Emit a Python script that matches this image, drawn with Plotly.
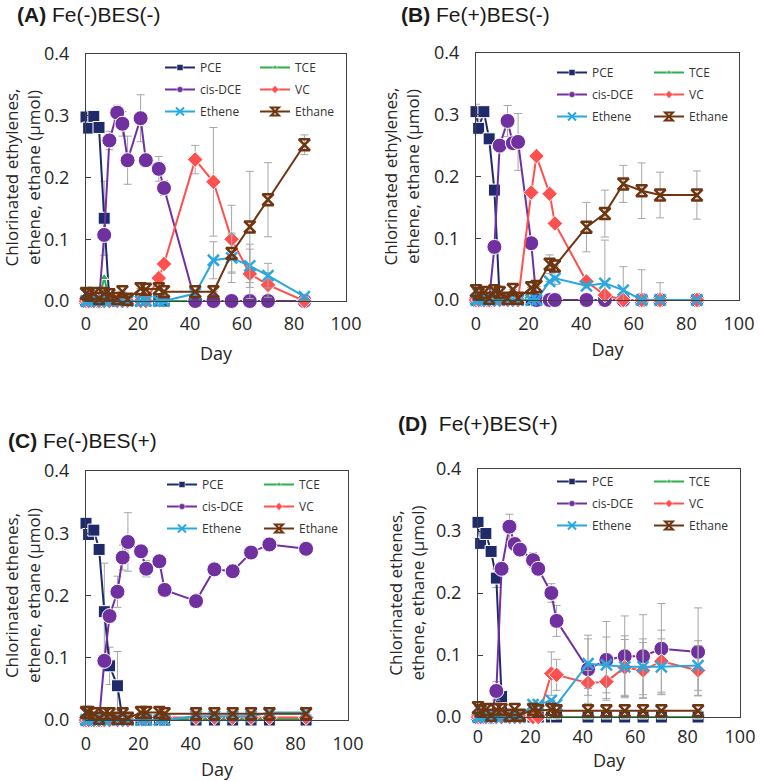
import plotly.graph_objects as go

W, H = 760, 781

days = [0, 1, 3, 5, 7, 9, 12, 14, 16, 21, 23, 28, 30, 42, 49, 56, 63, 70, 84]
x_ticks = [0, 20, 40, 60, 80, 100]
y_ticks = [0.0, 0.1, 0.2, 0.3, 0.4]
species = ['PCE', 'TCE', 'cis-DCE', 'VC', 'Ethene', 'Ethane']

# (A) Fe(-)BES(-)
a_pce = [0.298, 0.28, 0.299, 0.281, 0.134, 0, 0, 0, 0, 0, 0, 0, 0, 0, 0, 0, 0, 0, 0]
a_tce = [0, 0, 0, 0, 0.038, 0, 0, 0, 0, 0, 0, 0, 0, 0, 0, 0, 0, 0, 0]
a_cis = [0, 0, 0, 0, 0.107, 0.26, 0.305, 0.287, 0.228, 0.296, 0.228, 0.214, 0.183, 0, 0, 0, 0, 0, 0]
a_vc = [0, 0, 0, 0, 0, 0, 0, 0, 0, 0, 0, 0.037, 0.06, 0.229, 0.193, 0.10, 0.044, 0.026, 0]
a_ethene = [0, 0, 0, 0, 0, 0, 0, 0, 0, 0, 0, 0, 0, 0.012, 0.066, 0.07, 0.057, 0.041, 0.007]
a_ethane = [0.012, 0.01, 0.012, 0.004, 0.012, 0.01, 0.004, 0.015, 0.003, 0.02, 0.019, 0.02, 0.015,
            0.015, 0.015, 0.077, 0.12, 0.164, 0.253]
a_pce_err = [0.01, None, None, None, 0.06, None, None, None, None, None, None, None, None, None, None, None, None, None, None]
a_cis_err = [None, None, None, None, None, 0.015, 0.012, 0.02, 0.039, 0.038, None, 0.02, 0.012, None, None, None, None, None, None]
a_vc_err = [None, None, None, None, None, None, None, None, None, None, None, None, None, 0.023, 0.088, 0.055, 0.04, 0.02, None]
a_ethene_err = [None, None, None, None, None, None, None, None, None, None, None, None, None, None, 0.03, 0.04, 0.035, 0.02, None]
a_ethane_err = [None, None, None, None, None, None, None, None, None, None, None, None, None, None, None, 0.03, 0.09, 0.06, 0.016]

# (B) Fe(+)BES(-)
b_pce = [0.305, 0.278, 0.305, 0.261, 0.178, 0, 0, 0, 0, 0, 0, 0, 0, 0, 0, 0, 0, 0, 0]
b_tce = [0, 0, 0, 0, 0, 0, 0, 0, 0, 0.005, 0.005, 0, 0, 0, 0, 0, 0, 0, 0]
b_cis = [0, 0, 0, 0, 0.086, 0.25, 0.29, 0.254, 0.256, 0.092, 0, 0, 0, 0, 0, 0, 0, 0, 0]
b_vc = [0, 0, 0, 0, 0, 0, 0, 0, 0, 0.174, 0.233, 0.172, 0.124, 0.03, 0.008, 0, 0, 0, 0]
b_ethene = [0, 0, 0, 0, 0, 0, 0, 0, 0, 0, 0, 0.03, 0.035, 0.023, 0.027, 0.016, 0, 0, 0]
b_ethane = [0.015, 0.01, 0.012, 0.003, 0.015, 0.012, 0.003, 0.017, 0.003, 0.02, 0.022, 0.058, 0.055,
            0.118, 0.14, 0.188, 0.177, 0.17, 0.17]
b_pce_err = [0.012, None, None, None, None, None, None, None, None, None, None, None, None, None, None, None, None, None, None]
b_cis_err = [None, None, None, None, None, None, 0.025, None, 0.046, None, None, None, None, None, None, None, None, None, None]
b_vc_err = [None] * 19
b_ethene_err = [None, None, None, None, None, None, None, None, None, None, None, None, 0.01, None, 0.07, 0.038, 0.049, 0.028, None]
b_ethane_err = [None, None, None, None, None, None, None, None, None, None, None, 0.015, None, 0.04, 0.038, 0.03, 0.045, 0.037, 0.039]

# (C) Fe(-)BES(+)
c_pce = [0.316, 0.298, 0.305, 0.274, 0.174, 0.087, 0.055, 0, 0, 0, 0, 0, 0, 0, 0, 0, 0, 0, 0]
c_tce = [0, 0, 0, 0, 0, 0, 0, 0, 0, 0.002, 0.002, 0.002, 0.002, 0.002, 0.002, 0.002, 0.002, 0.002, 0.002]
c_cis = [0, 0, 0, 0, 0.095, 0.167, 0.206, 0.261, 0.286, 0.271, 0.243, 0.255, 0.209, 0.191, 0.242,
         0.239, 0.269, 0.282, 0.275]
c_vc = [0, 0, 0, 0, 0, 0, 0, 0, 0, 0.004, 0.004, 0.004, 0.004, 0.004, 0.004, 0.004, 0.004, 0.004, 0.004]
c_ethene = [0, 0, 0, 0, 0, 0, 0, 0, 0, 0, 0, 0, 0, 0.006, 0.006, 0.006, 0.006, 0.012, 0.012]
c_ethane = [0.012, 0.012, 0.01, 0.003, 0.01, 0.01, 0.003, 0.01, 0.003, 0.012, 0.012, 0.012, 0.01,
            0.01, 0.01, 0.01, 0.01, 0.01, 0.01]
c_pce_err = [None, None, None, None, 0.078, 0.03, 0.055, None, None, None, None, None, None, None, None, None, None, None, None]
c_cis_err = [None, None, None, None, None, None, 0.025, 0.02, 0.047, None, 0.013, None, None, None, None, None, None, None, None]
c_vc_err = [None] * 19
c_ethene_err = [None] * 19
c_ethane_err = [None] * 19

# (D) Fe(+)BES(+)
d_pce = [0.314, 0.28, 0.296, 0.267, 0.224, 0.033, 0, 0, 0, 0, 0, 0, 0, 0, 0, 0, 0, 0, 0]
d_tce = [0] * 19
d_cis = [0, 0, 0, 0, 0.042, 0.239, 0.307, 0.279, 0.27, 0.253, 0.239, 0.2, 0.155, 0.077, 0.092,
         0.098, 0.098, 0.11, 0.105]
d_vc = [0, 0, 0, 0, 0, 0, 0, 0, 0, 0, 0, 0.07, 0.068, 0.055, 0.057, 0.08, 0.075, 0.09, 0.075]
d_ethene = [0, 0, 0, 0, 0, 0, 0, 0, 0, 0.02, 0.02, 0.027, 0.02, 0.086, 0.084, 0.081, 0.081, 0.081, 0.083]
d_ethane = [0.015, 0.01, 0.012, 0.003, 0.012, 0.012, 0.003, 0.012, 0.003, 0.012, 0.01, 0.012, 0.01,
            0.01, 0.01, 0.01, 0.01, 0.01, 0.01]
d_pce_err = [None, None, None, None, 0.015, None, None, None, None, None, None, None, None, None, None, None, None, None, None]
d_cis_err = [None, None, None, None, 0.015, None, 0.02, None, None, 0.012, None, 0.015, 0.025, 0.055,
             0.062, 0.065, 0.067, 0.073, 0.071]
d_vc_err = [None, None, None, None, None, None, None, None, None, None, None, 0.035, 0.025, 0.02, 0.03,
            0.045, 0.045, 0.05, 0.04]
d_ethene_err = [None, None, None, None, None, None, None, None, None, None, None, None, None, 0.04, 0.045,
                0.05, 0.045, 0.045, 0.04]
d_ethane_err = [None] * 19

panels = [
    dict(tag='A', name='Fe(-)BES(-)', gap=' ', ytitle='Chlorinated ethylenes,<br>ethene, ethane (μmol)',
         data=[a_pce, a_tce, a_cis, a_vc, a_ethene, a_ethane],
         err=[a_pce_err, None, a_cis_err, a_vc_err, a_ethene_err, a_ethane_err]),
    dict(tag='B', name='Fe(+)BES(-)', gap=' ', ytitle='Chlorinated ethylenes,<br>ethene, ethane (μmol)',
         data=[b_pce, b_tce, b_cis, b_vc, b_ethene, b_ethane],
         err=[b_pce_err, None, b_cis_err, b_vc_err, b_ethene_err, b_ethane_err]),
    dict(tag='C', name='Fe(-)BES(+)', gap=' ', ytitle='Chlorinated ethenes,<br>ethene, ethane (μmol)',
         data=[c_pce, c_tce, c_cis, c_vc, c_ethene, c_ethane],
         err=[c_pce_err, None, c_cis_err, c_vc_err, c_ethene_err, c_ethane_err]),
    dict(tag='D', name='Fe(+)BES(+)', gap='&nbsp; ', ytitle='Chlorinated ethenes,<br>ethene, ethane (μmol)',
         data=[d_pce, d_tce, d_cis, d_vc, d_ethene, d_ethane],
         err=[d_pce_err, None, d_cis_err, d_vc_err, d_ethene_err, d_ethane_err]),
]

# pixel boxes of the four plot frames: left, right, top, bottom
boxes = [(86, 346, 54, 301), (476, 739, 53, 300), (86, 348, 471, 720), (478, 740, 469, 717)]
title_pos = [(15, 15), (399, 15), (6, 440), (396, 423)]
legend_pos = [((160, 255), 53), ((552, 649), 58), ((162, 259), 470), ((552, 649), 467)]
xlabel_gap = [6, 7, 7, 3]
xtitle_gap = [13, 9, 9, 1]
ytitle_gap = [11, 10, 10, 7]

style = {
    'PCE': dict(color='#1F2A6B', symbol='square', size=12, leg=6),
    'TCE': dict(color='#2DB04B', symbol='triangle-up', size=8, leg=5),
    'cis-DCE': dict(color='#7030A0', symbol='circle', size=15, leg=6),
    'VC': dict(color='#FF5050', symbol='diamond', size=12, leg=6),
    'Ethene': dict(color='#29A8E0', symbol='x-thin-open', size=11, leg=8),
    'Ethane': dict(color='#6E3511', symbol='hourglass-open', size=11, leg=8),
}

FONT = 'Open Sans'
fig = go.Figure()

for i, p in enumerate(panels):
    n = i + 1
    xa, ya = ('x' if n == 1 else f'x{n}'), ('y' if n == 1 else f'y{n}')
    for k, sp in enumerate(species):
        st = style[sp]
        is_open = st['symbol'].endswith('open')
        mline = dict(color=st['color'], width=2.5) if is_open else dict(color='white', width=1)
        err = p['err'][k]
        fig.add_trace(go.Scatter(
            x=days, y=p['data'][k], xaxis=xa, yaxis=ya, mode='lines+markers',
            line=dict(color=st['color'], width=2),
            marker=dict(symbol=st['symbol'], size=st['size'], color=st['color'], line=mline),
            error_y=dict(type='data', array=err, visible=err is not None,
                         color='#A6A6A6', thickness=1, width=4),
            cliponaxis=False, showlegend=False, name=sp))
    # legend-only entries, two columns of three
    for k, sp in enumerate(species):
        st = style[sp]
        is_open = st['symbol'].endswith('open')
        mline = dict(color=st['color'], width=2) if is_open else dict(color='white', width=0.5)
        col = k % 2
        lg = 2 * i + col + 1
        fig.add_trace(go.Scatter(
            x=[None], y=[None], xaxis=xa, yaxis=ya, mode='lines+markers', name=sp,
            line=dict(color=st['color'], width=2),
            marker=dict(symbol=st['symbol'], size=st['leg'], color=st['color'], line=mline),
            legend='legend' if lg == 1 else f'legend{lg}',
            legendgroup=f'{p["tag"]}-{sp}', showlegend=True))

layout = dict(width=W, height=H, margin=dict(l=0, r=0, t=0, b=0, autoexpand=False),
              paper_bgcolor='white', plot_bgcolor='white', showlegend=True,
              font=dict(family=FONT, size=18, color='#262626'))

annotations = []
for i, p in enumerate(panels):
    n = i + 1
    l, r, t, b = boxes[i]
    sx = '' if n == 1 else str(n)
    layout[f'xaxis{sx}'] = dict(
        domain=[l / W, r / W], anchor=f'y{sx}', range=[0, 100], tickvals=x_ticks,
        showline=True, mirror=True, linecolor='#404040', linewidth=1, ticks='',
        showgrid=False, zeroline=False, ticklabelstandoff=xlabel_gap[i],
        tickfont=dict(family=FONT, size=18, color='#262626'),
        title=dict(text='Day', standoff=xtitle_gap[i], font=dict(family=FONT, size=18)))
    layout[f'yaxis{sx}'] = dict(
        domain=[1 - b / H, 1 - t / H], anchor=f'x{sx}', range=[0, 0.4], tickvals=y_ticks,
        tickformat='.1f', showline=True, mirror=True, linecolor='#404040', linewidth=1,
        ticks='inside', ticklen=5, tickcolor='#404040', showgrid=False, zeroline=False,
        ticklabelstandoff=12, tickfont=dict(family=FONT, size=18, color='#262626'),
        title=dict(text=p['ytitle'], standoff=ytitle_gap[i], font=dict(family=FONT, size=17)))
    (c1, c2), ltop = legend_pos[i]
    for col, cx in enumerate((c1, c2)):
        lg = 2 * i + col + 1
        key = 'legend' if lg == 1 else f'legend{lg}'
        layout[key] = dict(x=cx / W, y=1 - ltop / H, xanchor='left', yanchor='top',
                           orientation='v', bgcolor='rgba(0,0,0,0)', tracegroupgap=3,
                           font=dict(family=FONT, size=12, color='#333333'),
                           itemclick=False, itemdoubleclick=False)
    tx, ty = title_pos[i]
    annotations.append(dict(
        text=f'<b>({p["tag"]})</b>{p["gap"]}{p["name"]}', xref='paper', yref='paper',
        x=tx / W, y=1 - ty / H, xanchor='left', yanchor='middle', showarrow=False,
        font=dict(family='Liberation Sans', size=21, color='#1a1a1a')))

layout['annotations'] = annotations
fig.update_layout(**layout)

# drop the browser's default page margin so the figure fills the window
fig.write_html('out.html', config={'displayModeBar': False},
               post_script="document.body.style.margin='0';")
